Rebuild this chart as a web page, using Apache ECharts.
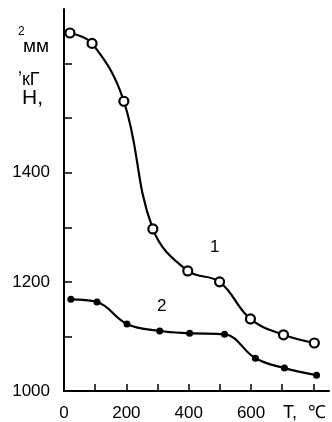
<!DOCTYPE html>
<html><head><meta charset="utf-8">
<script src="https://cdn.jsdelivr.net/npm/echarts@6/dist/echarts.min.js"></script>
<style>html,body{margin:0;padding:0;background:#fff}#c{width:332px;height:422px}</style>
</head><body><div id="c"></div>
<script>
var temps1 = [19, 90, 192, 285, 397, 499, 598, 704, 803];
var vals1 = [1656, 1637, 1531, 1297, 1220, 1200, 1132, 1103, 1088];
var temps2 = [22, 106, 202, 307, 403, 515, 614, 707, 810];
var vals2 = [1168, 1163, 1123, 1110, 1106, 1104, 1060, 1042, 1029];
var yTickLabels = [1000, 1200, 1400];
var xTickLabels = [0, 200, 400, 600];
var seriesNames = ['1', '2'];

var font = '"Liberation Sans", Arial, sans-serif';
function zip(a, b) { return a.map(function (v, i) { return [v, b[i]]; }); }

var chart = echarts.init(document.getElementById('c'), null, {renderer: 'canvas'});
chart.setOption({
  animation: false,
  backgroundColor: '#fff',
  grid: {left: 64, right: 3, top: 9, bottom: 31},
  xAxis: {
    type: 'value', min: 0, max: 850, interval: 100,
    axisLine: {lineStyle: {color: '#000', width: 2}},
    axisTick: {inside: true, length: 7, lineStyle: {color: '#000', width: 1.5}},
    splitLine: {show: false},
    axisLabel: {
      color: '#000', fontSize: 17, fontFamily: font, margin: 14,
      showMaxLabel: false,
      formatter: function (v) { return xTickLabels.indexOf(v) >= 0 ? String(v) : ''; }
    }
  },
  yAxis: {
    type: 'value', min: 1000, max: 1700, interval: 100,
    axisLine: {show: true, lineStyle: {color: '#000', width: 2}},
    axisTick: {show: true, inside: true, length: 8, lineStyle: {color: '#000', width: 1.5}},
    splitLine: {show: false},
    axisLabel: {
      color: '#000', fontSize: 17, fontFamily: font, margin: 14,
      showMaxLabel: false,
      formatter: function (v) { return yTickLabels.indexOf(v) >= 0 ? String(v) : ''; }
    }
  },
  series: [
    {
      name: seriesNames[0], type: 'line', smooth: 0.4,
      data: zip(temps1, vals1),
      symbol: 'circle', symbolSize: 9,
      lineStyle: {color: '#000', width: 2.2},
      itemStyle: {color: '#fff', borderColor: '#000', borderWidth: 2.2}
    },
    {
      name: seriesNames[1], type: 'line', smooth: 0.4,
      data: zip(temps2, vals2),
      symbol: 'circle', symbolSize: 7,
      lineStyle: {color: '#000', width: 2.2},
      itemStyle: {color: '#000', borderColor: '#000', borderWidth: 0}
    }
  ],
  graphic: [
    {type: 'text', left: 210, top: 239, style: {text: seriesNames[0], font: '17px ' + font, fill: '#000'}},
    {type: 'text', left: 157, top: 298, style: {text: seriesNames[1], font: '17px ' + font, fill: '#000'}},
    {type: 'text', left: 283, top: 404, style: {text: 'T,', font: '18px ' + font, fill: '#000'}},
    {type: 'text', left: 308, top: 404, style: {text: '℃', font: '18px ' + font, fill: '#000'}},
    {type: 'text', left: 18, top: 26, style: {text: '2', font: '12px ' + font, fill: '#000'}},
    {type: 'text', left: 23, top: 37, style: {text: 'мм', font: '19px ' + font, fill: '#000'}},
    {type: 'text', left: 18, top: 71, style: {text: '\u02bcкГ', font: '18px ' + font, fill: '#000'}},
    {type: 'text', left: 22, top: 88, style: {text: 'Н,', font: '21px ' + font, fill: '#000'}}
  ]
});
</script>
</body></html>
